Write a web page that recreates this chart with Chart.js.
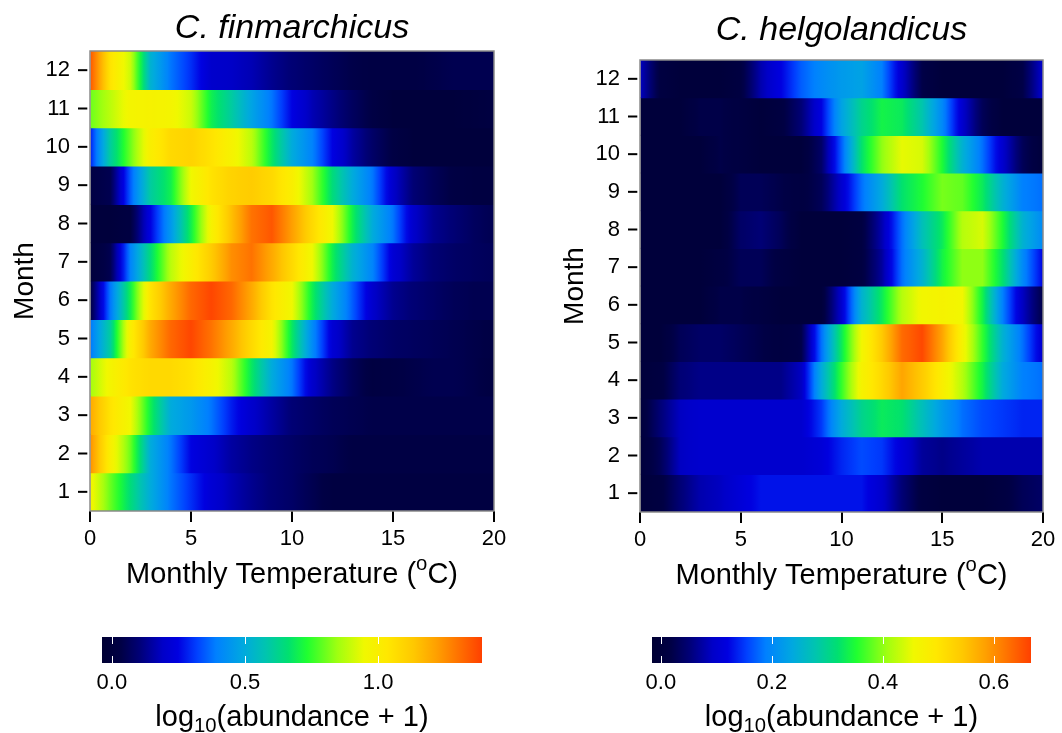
<!DOCTYPE html>
<html><head><meta charset="utf-8">
<script src="https://cdn.jsdelivr.net/npm/chart.js@4.4.1/dist/chart.umd.min.js"></script>
<style>
html,body{margin:0;padding:0;background:#fff;}
#wrap{position:relative;width:1062px;height:733px;overflow:hidden;}
canvas{position:absolute;}
</style></head><body><div id="wrap">
<canvas id="hmL" style="left:0;top:0" width="531" height="600"></canvas>
<canvas id="hmR" style="left:531px;top:0" width="531" height="600"></canvas>
<canvas id="cbL" style="left:0;top:600px" width="531" height="133"></canvas>
<canvas id="cbR" style="left:531px;top:600px" width="531" height="133"></canvas>
</div>
<script>
// ---------------- data ----------------
const months = [1,2,3,4,5,6,7,8,9,10,11,12];
const temperatures = [0,1,2,3,4,5,6,7,8,9,10,11,12,13,14,15,16,17,18,19,20];
const tempTicks = [0,5,10,15,20];
// log10(abundance + 1), one row per month (1..12), one value per temperature
const finmarchicus = [
  [0.97,0.80,0.65,0.50,0.38,0.30,0.22,0.17,0.13,0.10,0.08,0.05,0.02,0.02,0.02,0.02,0.02,0.02,0.02,0.02,0.02],
  [1.25,1.00,0.80,0.50,0.38,0.25,0.20,0.15,0.12,0.10,0.08,0.06,0.05,0.03,0.03,0.03,0.03,0.03,0.03,0.03,0.03],
  [1.20,1.05,0.95,0.70,0.50,0.45,0.38,0.28,0.20,0.15,0.10,0.08,0.06,0.05,0.04,0.04,0.04,0.04,0.04,0.04,0.04],
  [0.85,0.97,1.05,1.08,1.08,1.05,0.98,0.88,0.68,0.50,0.38,0.20,0.12,0.06,0.02,0.03,0.04,0.05,0.05,0.04,0.02],
  [0.38,0.60,1.00,1.20,1.32,1.38,1.30,1.20,1.08,0.97,0.68,0.42,0.22,0.13,0.10,0.08,0.07,0.06,0.05,0.04,0.03],
  [0.02,0.38,0.70,1.05,1.20,1.32,1.38,1.32,1.20,1.05,0.95,0.70,0.50,0.35,0.20,0.13,0.10,0.08,0.06,0.05,0.05],
  [0.00,0.05,0.40,0.65,0.88,1.00,1.12,1.25,1.30,1.20,1.08,0.95,0.70,0.52,0.40,0.22,0.14,0.10,0.08,0.07,0.06],
  [0.00,0.00,0.02,0.25,0.45,0.70,0.98,1.15,1.30,1.35,1.22,1.08,0.95,0.70,0.50,0.38,0.20,0.13,0.10,0.07,0.05],
  [0.03,0.05,0.35,0.60,0.70,0.95,1.05,1.10,1.12,1.08,1.00,0.85,0.65,0.50,0.38,0.20,0.10,0.06,0.03,0.02,0.02],
  [0.28,0.60,0.80,1.00,1.08,1.10,1.05,0.98,0.88,0.68,0.50,0.40,0.25,0.15,0.08,0.03,0.00,0.00,0.00,0.00,0.00],
  [0.80,0.88,0.97,0.98,0.97,0.90,0.70,0.60,0.48,0.38,0.25,0.17,0.12,0.07,0.03,0.00,0.00,0.00,0.00,0.01,0.02],
  [1.35,1.05,0.90,0.52,0.38,0.30,0.20,0.19,0.17,0.13,0.10,0.08,0.06,0.04,0.03,0.03,0.03,0.04,0.05,0.05,0.05]
];
const helgolandicus = [
  [0.00,0.01,0.05,0.08,0.09,0.11,0.13,0.13,0.13,0.13,0.13,0.13,0.10,0.05,0.01,0.00,0.00,0.00,0.01,0.03,0.04],
  [0.00,0.03,0.09,0.10,0.10,0.10,0.10,0.10,0.10,0.11,0.14,0.16,0.15,0.11,0.07,0.06,0.07,0.08,0.08,0.08,0.08],
  [0.00,0.05,0.09,0.10,0.10,0.10,0.10,0.10,0.10,0.15,0.24,0.30,0.33,0.32,0.27,0.22,0.18,0.16,0.15,0.14,0.14],
  [0.00,0.01,0.05,0.06,0.06,0.06,0.06,0.06,0.09,0.24,0.36,0.47,0.52,0.58,0.54,0.48,0.42,0.34,0.24,0.19,0.18],
  [0.00,0.00,0.03,0.04,0.04,0.03,0.02,0.01,0.02,0.18,0.33,0.46,0.54,0.63,0.66,0.58,0.47,0.36,0.25,0.18,0.10],
  [0.00,0.00,0.00,0.00,0.02,0.02,0.01,0.00,0.00,0.00,0.10,0.25,0.33,0.42,0.46,0.47,0.46,0.34,0.19,0.09,0.02],
  [0.00,0.00,0.00,0.00,0.01,0.03,0.03,0.01,0.00,0.00,0.00,0.01,0.07,0.18,0.25,0.34,0.40,0.40,0.32,0.20,0.12],
  [0.00,0.00,0.00,0.00,0.00,0.04,0.05,0.03,0.00,0.00,0.00,0.01,0.08,0.18,0.27,0.33,0.42,0.44,0.35,0.25,0.20],
  [0.00,0.00,0.00,0.00,0.00,0.03,0.03,0.02,0.01,0.03,0.10,0.18,0.24,0.32,0.35,0.39,0.38,0.33,0.25,0.19,0.18],
  [0.00,0.00,0.00,0.00,0.02,0.01,0.00,0.00,0.00,0.04,0.17,0.32,0.40,0.45,0.44,0.35,0.25,0.18,0.10,0.03,0.00],
  [0.00,0.00,0.00,0.02,0.02,0.01,0.00,0.01,0.05,0.12,0.23,0.30,0.34,0.33,0.28,0.20,0.10,0.03,0.00,0.00,0.00],
  [0.09,0.01,0.00,0.00,0.00,0.01,0.08,0.12,0.17,0.20,0.22,0.23,0.19,0.10,0.02,0.00,0.00,0.00,0.00,0.02,0.10]
];
const finRange = [-0.037, 1.39];
const helRange = [-0.016, 0.667];
const finColorTicks = [0.0, 0.5, 1.0];
const helColorTicks = [0.0, 0.2, 0.4, 0.6];

// ---------------- style ----------------
const FONT = "'Liberation Sans', Arial, Helvetica, sans-serif";
Chart.defaults.font.family = FONT;
Chart.defaults.color = '#000';
const palette = [
  [0.00,'#000033'],[0.05,'#000045'],[0.10,'#000078'],[0.16,'#0000c8'],[0.20,'#0000e0'],
  [0.25,'#0040ff'],[0.30,'#0080ff'],[0.37,'#00a8e0'],[0.43,'#00c4b0'],[0.49,'#00e070'],
  [0.54,'#20ff30'],[0.62,'#a0ff10'],[0.69,'#f0f800'],[0.75,'#ffe800'],[0.82,'#ffc800'],
  [0.88,'#ffa000'],[0.94,'#ff7000'],[1.00,'#ff4000']
];
const palRGB = palette.map(p => [p[0], parseInt(p[1].slice(1,3),16), parseInt(p[1].slice(3,5),16), parseInt(p[1].slice(5,7),16)]);
function cmap(f){
  if (!isFinite(f)) f = 0;
  f = Math.max(0, Math.min(1, f));
  for (let i = 0; i < palRGB.length - 1; i++){
    const a = palRGB[i], b = palRGB[i+1];
    if (f <= b[0]){
      const u = (f - a[0]) / (b[0] - a[0]);
      return 'rgb(' + Math.round(a[1]+(b[1]-a[1])*u) + ',' + Math.round(a[2]+(b[2]-a[2])*u) + ',' + Math.round(a[3]+(b[3]-a[3])*u) + ')';
    }
  }
  const l = palRGB[palRGB.length-1];
  return 'rgb(' + l[1] + ',' + l[2] + ',' + l[3] + ')';
}

function drawSupText(ctx, parts, cx, baseline, size){
  let total = 0;
  const items = parts.map(([t, m]) => {
    const s = m === 'n' ? size : size * 0.7;
    ctx.font = s + 'px ' + FONT;
    const w = ctx.measureText(t).width;
    total += w;
    return {t, m, s, w};
  });
  let x = cx - total / 2;
  ctx.textAlign = 'left';
  ctx.textBaseline = 'alphabetic';
  items.forEach(it => {
    ctx.font = it.s + 'px ' + FONT;
    const dy = it.m === 'sup' ? -size * 0.42 : it.m === 'sub' ? size * 0.22 : 0;
    ctx.fillText(it.t, x, baseline + dy);
    x += it.w;
  });
}

function makeHeatmap(id, title, rows, range, g){
  const SUB = 6;
  const frame = {
    id: 'frame_' + id,
    afterDatasetsDraw(chart){
      const {ctx, chartArea: a} = chart;
      ctx.save();
      ctx.strokeStyle = '#8a8a8a';
      ctx.lineWidth = 1.5;
      ctx.strokeRect(a.left, a.top, a.right - a.left, a.bottom - a.top);
      const ys = chart.scales.y;
      ctx.strokeStyle = '#000';
      ctx.lineWidth = 2;
      ys.ticks.forEach((t, i) => {
        const y = ys.getPixelForTick(i);
        ctx.beginPath();
        ctx.moveTo(a.left - 12, y);
        ctx.lineTo(a.left - 2.7, y);
        ctx.stroke();
      });
      ctx.fillStyle = '#000';
      drawSupText(ctx, [['Monthly Temperature (', 'n'], ['o', 'sup'], ['C)', 'n']], (a.left + a.right) / 2, a.bottom + 71.5, 29);
      ctx.translate(a.left - 65, (a.top + a.bottom) / 2);
      ctx.rotate(-Math.PI / 2);
      ctx.font = '28px ' + FONT;
      ctx.textAlign = 'center';
      ctx.textBaseline = 'middle';
      ctx.fillText('Month', 0, 0);
      ctx.restore();
    }
  };
  const chart = new Chart(document.getElementById(id), {
    type: 'bar',
    data: {
      labels: months.map(String),
      datasets: [{
        data: months.map(() => [temperatures[0], temperatures[temperatures.length - 1]]),
        backgroundColor(c){
          if (c.type !== 'data') return '#000033';
          const row = rows[c.dataIndex];
          const xs = c.chart.scales && c.chart.scales.x;
          if (!xs || !row) return '#000033';
          const x0 = xs.getPixelForValue(temperatures[0]);
          const x1 = xs.getPixelForValue(temperatures[temperatures.length - 1]);
          if (!isFinite(x0) || !isFinite(x1) || x1 - x0 < 1) return '#000033';
          const grad = c.chart.ctx.createLinearGradient(x0, 0, x1, 0);
          const n = temperatures.length;
          for (let i = 0; i < n - 1; i++){
            for (let k = 0; k < SUB; k++){
              const u = k / SUB;
              const t = temperatures[i] + (temperatures[i+1] - temperatures[i]) * u;
              const v = row[i] + (row[i+1] - row[i]) * u;
              const pos = (xs.getPixelForValue(t) - x0) / (x1 - x0);
              grad.addColorStop(Math.max(0, Math.min(1, pos)), cmap((v - range[0]) / (range[1] - range[0])));
            }
          }
          grad.addColorStop(1, cmap((row[n-1] - range[0]) / (range[1] - range[0])));
          return grad;
        },
        borderWidth: 0,
        inflateAmount: 0.6,
        barPercentage: 1,
        categoryPercentage: 1
      }]
    },
    options: {
      responsive: false,
      animation: false,
      indexAxis: 'y',
      layout: {padding: {left: 0, right: g.padRight, top: 0, bottom: 0}},
      plugins: {
        legend: {display: false},
        tooltip: {enabled: false},
        title: {
          display: true, text: title, fullSize: false, color: '#000',
          font: {size: 34, style: 'italic', weight: 'normal', family: FONT, lineHeight: 1.2},
          padding: {top: g.titleTop, bottom: g.titleBottom}
        }
      },
      scales: {
        x: {
          type: 'linear', min: temperatures[0], max: temperatures[temperatures.length - 1],
          afterBuildTicks(s){ s.ticks = tempTicks.map(v => ({value: v})); },
          afterFit(s){ s.height = g.xAxisHeight; },
          grid: {drawOnChartArea: false, drawTicks: true, tickLength: 11, color: '#000', lineWidth: 2},
          border: {display: false},
          ticks: {font: {size: 22}, color: '#000', padding: 4, maxRotation: 0}
        },
        y: {
          type: 'category', reverse: true,
          afterFit(s){ s.width = g.yAxisWidth; },
          grid: {display: false, drawTicks: false, tickLength: 0},
          border: {display: false},
          ticks: {font: {size: 22}, color: '#000', padding: 20}
        }
      }
    },
    plugins: [frame]
  });
  chart.update('none');
  return chart;
}

function makeColorbar(id, range, tickVals, g){
  const deco = {
    id: 'deco_' + id,
    afterDatasetsDraw(chart){
      const {ctx, chartArea: a} = chart;
      const xs = chart.scales.x;
      ctx.save();
      ctx.strokeStyle = '#ffffff';
      ctx.lineWidth = 1;
      tickVals.forEach(v => {
        const x = Math.round(xs.getPixelForValue(v)) + 0.5;
        ctx.beginPath(); ctx.moveTo(x, a.top); ctx.lineTo(x, a.top + 7); ctx.stroke();
        ctx.beginPath(); ctx.moveTo(x, a.bottom - 7); ctx.lineTo(x, a.bottom); ctx.stroke();
      });
      ctx.fillStyle = '#000';
      drawSupText(ctx, [['log', 'n'], ['10', 'sub'], ['(abundance + 1)', 'n']], (a.left + a.right) / 2, a.bottom + 63, 29);
      ctx.restore();
    }
  };
  const chart = new Chart(document.getElementById(id), {
    type: 'bar',
    data: {
      labels: [''],
      datasets: [{
        data: [[range[0], range[1]]],
        backgroundColor(c){
          if (c.type !== 'data') return '#000033';
          const xs = c.chart.scales && c.chart.scales.x;
          if (!xs) return '#000033';
          const x0 = xs.getPixelForValue(range[0]), x1 = xs.getPixelForValue(range[1]);
          if (!isFinite(x0) || !isFinite(x1) || x1 - x0 < 1) return '#000033';
          const grad = c.chart.ctx.createLinearGradient(x0, 0, x1, 0);
          palette.forEach(p => grad.addColorStop(p[0], p[1]));
          return grad;
        },
        borderWidth: 0, inflateAmount: 0, barPercentage: 1, categoryPercentage: 1
      }]
    },
    options: {
      responsive: false, animation: false, indexAxis: 'y',
      layout: {padding: {left: g.left, right: g.right, top: g.top, bottom: 0}},
      plugins: {legend: {display: false}, tooltip: {enabled: false}, title: {display: false}},
      scales: {
        x: {
          type: 'linear', min: range[0], max: range[1],
          afterBuildTicks(s){ s.ticks = tickVals.map(v => ({value: v})); },
          afterFit(s){ s.height = g.axisHeight; },
          grid: {display: false, drawTicks: false, tickLength: 0}, border: {display: false},
          ticks: {font: {size: 22}, color: '#000', padding: 7, maxRotation: 0,
                  callback: v => Math.abs(v) < 1e-9 ? '0.0' : Number(v).toFixed(1)}
        },
        y: {display: false}
      }
    },
    plugins: [deco]
  });
  chart.update('none');
  return chart;
}

makeHeatmap('hmL', 'C. finmarchicus', finmarchicus, finRange,
  {padRight: 37, yAxisWidth: 90, xAxisHeight: 89, titleTop: 8, titleBottom: 2.2});
makeHeatmap('hmR', 'C. helgolandicus', helgolandicus, helRange,
  {padRight: 19, yAxisWidth: 109, xAxisHeight: 88, titleTop: 10, titleBottom: 9.2});
makeColorbar('cbL', finRange, finColorTicks, {left: 102, right: 49, top: 37, axisHeight: 70});
makeColorbar('cbR', helRange, helColorTicks, {left: 121, right: 31, top: 37, axisHeight: 70});
</script>
</body></html>
